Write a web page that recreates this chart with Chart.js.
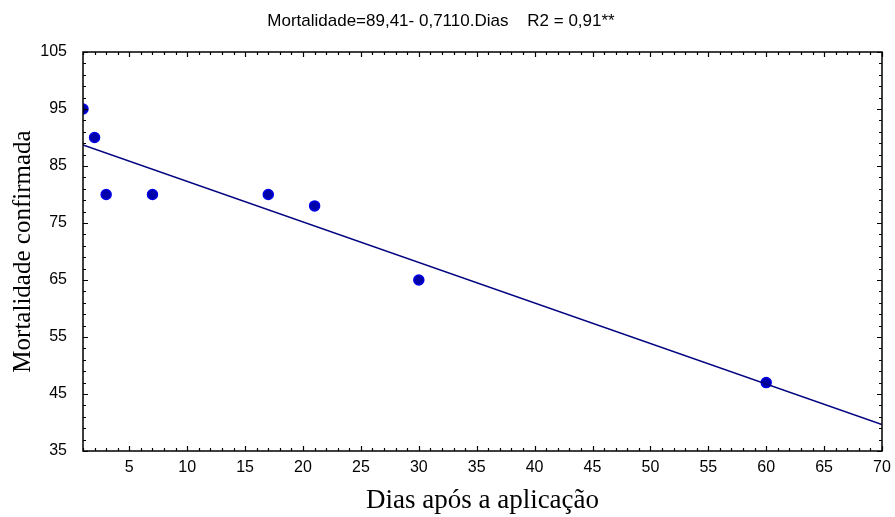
<!DOCTYPE html>
<html>
<head>
<meta charset="utf-8">
<script src="https://cdn.jsdelivr.net/npm/chart.js@4"></script>
<style>
  html, body { margin: 0; padding: 0; background: #fff; }
  #wrap { width: 895px; height: 517px; }
</style>
</head>
<body>
<div id="wrap"><canvas id="grafico" width="895" height="517"></canvas></div>
<script>
// dados
const dias = [1, 2, 3, 7, 17, 21, 30, 60];
const mortalidade = [95, 90, 80, 80, 80, 78, 65, 47];

// reta ajustada (extremos do eixo x)
const retaX = [1, 70];
const retaY = [88.7, 39.64];

const ticksX = [5, 10, 15, 20, 25, 30, 35, 40, 45, 50, 55, 60, 65, 70];
const ticksY = [35, 45, 55, 65, 75, 85, 95, 105];

// moldura e marcas para dentro, nos quatro lados
const moldura = {
  id: "moldura",
  afterDraw(chart) {
    const ctx = chart.ctx;
    const a = chart.chartArea;
    const sx = chart.scales.x;
    const sy = chart.scales.y;
    ctx.save();
    ctx.strokeStyle = "#000";
    ctx.lineWidth = 1.5;
    ctx.strokeRect(a.left, a.top, a.right - a.left, a.bottom - a.top);
    ctx.lineWidth = 1.2;
    ctx.beginPath();
    for (let v = 1; v <= 70; v++) {
      const px = Math.round(sx.getPixelForValue(v)) + 0.5;
      const len = v % 5 === 0 ? 5 : 3;
      ctx.moveTo(px, a.bottom); ctx.lineTo(px, a.bottom - len);
      ctx.moveTo(px, a.top); ctx.lineTo(px, a.top + len);
    }
    for (let v = 35; v <= 105; v += 2) {
      const py = Math.round(sy.getPixelForValue(v)) + 0.5;
      const len = (v - 35) % 10 === 0 ? 5 : 3;
      ctx.moveTo(a.left, py); ctx.lineTo(a.left + len, py);
      ctx.moveTo(a.right, py); ctx.lineTo(a.right - len, py);
    }
    ctx.stroke();
    ctx.restore();
  }
};

new Chart(document.getElementById("grafico"), {
  type: "scatter",
  data: {
    datasets: [
      {
        label: "reta",
        type: "line",
        data: retaX.map((x, i) => ({ x: x, y: retaY[i] })),
        borderColor: "#000080",
        borderWidth: 1.6,
        pointRadius: 0,
        fill: false
      },
      {
        label: "Mortalidade",
        data: dias.map((d, i) => ({ x: d, y: mortalidade[i] })),
        backgroundColor: "#0000a8",
        borderColor: "#0000e6",
        borderWidth: 1.5,
        pointRadius: 5
      }
    ]
  },
  options: {
    responsive: false,
    animation: false,
    layout: { padding: { left: 0, right: 13, top: 0, bottom: 0 } },
    plugins: {
      legend: { display: false },
      tooltip: { enabled: false },
      title: {
        display: true,
        text: "Mortalidade=89,41- 0,7110.Dias    R2 = 0,91**",
        color: "#000",
        font: { family: "Liberation Sans, Arial", size: 17, weight: "normal" },
        padding: { top: 11, bottom: 20.6 }
      }
    },
    scales: {
      x: {
        type: "linear",
        min: 1,
        max: 70,
        afterBuildTicks: s => { s.ticks = ticksX.map(v => ({ value: v })); },
        afterFit: s => { s.height = 66; s.paddingRight = 0; s.paddingLeft = 0; },
        grid: { display: false, drawTicks: false },
        border: { display: false },
        ticks: {
          color: "#000",
          padding: 7,
          maxRotation: 0,
          font: { family: "Liberation Sans, Arial", size: 16 }
        },
        title: {
          display: true,
          text: "Dias após a aplicação",
          color: "#000",
          font: { family: "Liberation Serif, Times New Roman", size: 27 },
          padding: { top: 0, bottom: 0 }
        }
      },
      y: {
        min: 35,
        max: 105,
        afterBuildTicks: s => { s.ticks = ticksY.map(v => ({ value: v })); },
        afterFit: s => { s.width = 83; },
        grid: { display: false, drawTicks: false },
        border: { display: false },
        ticks: {
          color: "#000",
          padding: 16,
          font: { family: "Liberation Sans, Arial", size: 16 }
        },
        title: {
          display: true,
          text: "Mortalidade confirmada",
          color: "#000",
          font: { family: "Liberation Serif, Times New Roman", size: 25 },
          padding: { top: 8, bottom: 0 }
        }
      }
    }
  },
  plugins: [moldura]
});
</script>
</body>
</html>
